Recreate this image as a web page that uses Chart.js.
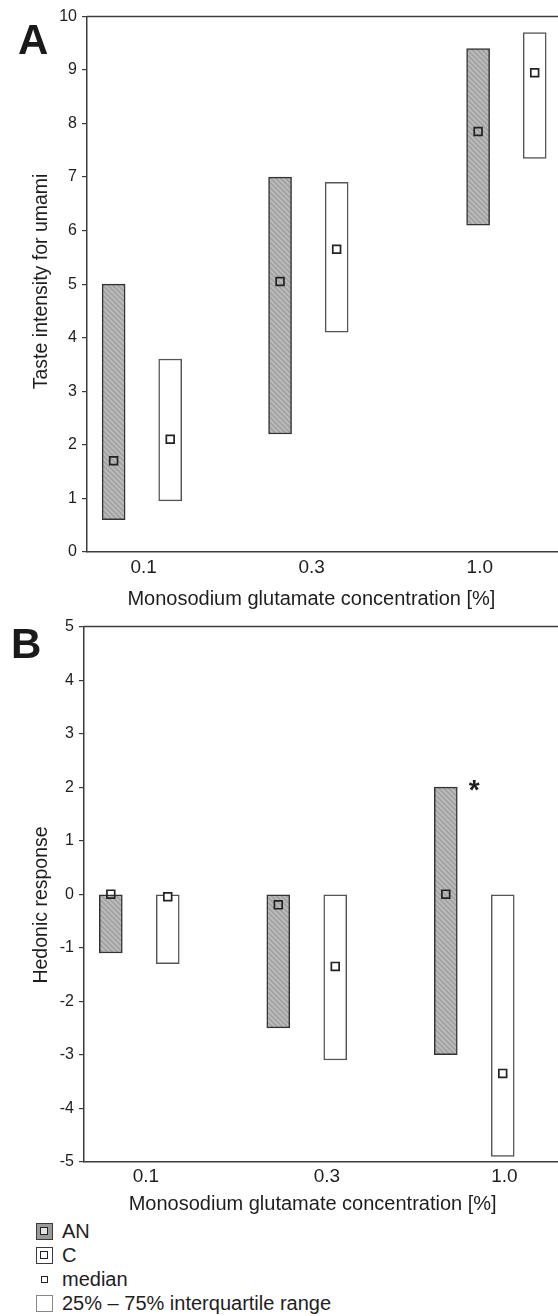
<!DOCTYPE html>
<html>
<head>
<meta charset="utf-8">
<script src="https://cdn.jsdelivr.net/npm/chart.js@4.4.1/dist/chart.umd.min.js"></script>
<style>
  body { margin: 0; background: #fff; }
  #page { position: relative; width: 558px; height: 1316px; overflow: hidden;
          font-family: "Liberation Sans", Arial, sans-serif; color: #1e1e1e; }
  canvas { position: absolute; left: 0; }
  #chartA { top: 0; }
  #chartB { top: 612px; }
  .panel { position: absolute; font-weight: bold; font-size: 42px; line-height: 42px; color: #1a1a1a; }
  #legend { position: absolute; left: 36px; top: 1219px; font-size: 20px; }
  .row { position: relative; height: 24px; line-height: 24px; padding-left: 26px; white-space: nowrap; }
  .key { position: absolute; left: 0; top: 4px; width: 17px; height: 17px; box-sizing: border-box;
         border: 1.5px solid #3a3a3a; background: #fff; }
  .key i { position: absolute; left: 3px; top: 3px; width: 8px; height: 8px; box-sizing: border-box;
           border: 1.5px solid #222; background: #fff; }
  .key.an { background: #9a9a9a; }
  .key.an i { background: #e4e4e4; }
  .key.med { border: none; background: none; }
  .key.med i { left: 5px; top: 5px; width: 7px; height: 7px; }
  .key.iqr { border: 1px solid #888; }
</style>
</head>
<body>
<div id="page">
  <canvas id="chartA" width="558" height="612"></canvas>
  <canvas id="chartB" width="558" height="606"></canvas>
  <div class="panel" style="left:18px; top:19px;">A</div>
  <div class="panel" style="left:11px; top:623px;">B</div>
  <div id="legend">
    <div class="row"><span class="key an"><i></i></span>AN</div>
    <div class="row"><span class="key c"><i></i></span>C</div>
    <div class="row"><span class="key med"><i></i></span>median</div>
    <div class="row"><span class="key iqr"></span>25% – 75% interquartile range</div>
  </div>
</div>
<script>
// Data
// -----------------------------------
var concLabels = ['0.1', '0.3', '1.0'];

// A: taste intensity for umami (25%, 75%, median)
var tasteAN_q1  = [0.6, 2.2, 6.1];
var tasteAN_q3  = [5.0, 7.0, 9.4];
var tasteAN_med = [1.7, 5.05, 7.85];
var tasteC_q1   = [0.95, 4.1, 7.35];
var tasteC_q3   = [3.6, 6.9, 9.7];
var tasteC_med  = [2.1, 5.65, 8.95];

// B: hedonic response (25%, 75%, median)
var hedAN_q1  = [-1.1, -2.5, -3.0];
var hedAN_q3  = [0, 0, 2.0];
var hedAN_med = [0, -0.2, 0];
var hedC_q1   = [-1.3, -3.1, -4.9];
var hedC_q3   = [0, 0, 0];
var hedC_med  = [-0.05, -1.35, -3.35];

// Layout (x axis positions in group units)
// -----------------------------------
var layout = {
    A: { groups: [1, 2, 3.19], labels: [1.01, 2.02, 3.03], axisW: 87, padTop: 16.5,
         tickPad: 5, titlePad: { top: 2.5, bottom: 1 }, xNudge: 4, yNudge: -1 },
    B: { groups: [1, 2, 3], labels: [1.04, 2.12, 3.18], axisW: 84, padTop: 13.7,
         tickPad: 4, titlePad: { top: 0, bottom: 1.5 }, xNudge: 3, yNudge: 4 },
    shift: 0.17
};

var FONT = '"Liberation Sans", Arial, sans-serif';
var INK = '#1e1e1e';
var LINE = '#3c3c3c';
Chart.defaults.font.family = FONT;
Chart.defaults.color = INK;

// pad a centred title with spaces so the visible text sits off-centre, like the figure
function nudge(text, n) {
    var sp = ' '.repeat(Math.abs(n));
    return n >= 0 ? text + sp : sp + text;
}

function hatch() {
    var c = document.createElement('canvas');
    c.width = 5; c.height = 5;
    var g = c.getContext('2d');
    g.fillStyle = '#a3a3a3';
    g.fillRect(0, 0, 5, 5);
    g.strokeStyle = '#c0c0c0';
    g.lineWidth = 1.4;
    g.beginPath();
    g.moveTo(-1, -1); g.lineTo(6, 6);
    g.moveTo(-1, 4); g.lineTo(1, 6);
    g.moveTo(4, -1); g.lineTo(6, 1);
    g.stroke();
    return g.createPattern(c, 'repeat');
}

// top frame line + asterisk marks
var extras = {
    id: 'extras',
    afterDraw: function(chart, args, opts) {
        var ctx = chart.ctx, a = chart.chartArea;
        ctx.save();
        ctx.strokeStyle = LINE;
        ctx.lineWidth = 1.5;
        ctx.beginPath();
        ctx.moveTo(a.left, a.top);
        ctx.lineTo(a.right, a.top);
        ctx.stroke();
        (opts.marks || []).forEach(function(m) {
            var px = chart.scales.x.getPixelForValue(m.x);
            var py = chart.scales.y.getPixelForValue(m.y);
            ctx.fillStyle = INK;
            ctx.font = 'bold 28px ' + FONT;
            ctx.textAlign = 'center';
            ctx.textBaseline = 'alphabetic';
            ctx.fillText(m.text, px, py + 0.57 * 28);
        });
        ctx.restore();
    }
};

function bars(label, pos, q1, q3, fill, border, dx) {
    return {
        type: 'bar',
        label: label,
        data: pos.map(function(p, i) { return { x: p + dx, y: [q1[i], q3[i]] }; }),
        backgroundColor: fill,
        borderColor: border,
        borderWidth: 1.5,
        borderSkipped: false,
        barThickness: 23,
        grouped: false,
        order: 2
    };
}

function medians(label, pos, med, fill, dx) {
    return {
        type: 'scatter',
        label: label,
        data: pos.map(function(p, i) { return { x: p + dx, y: med[i] }; }),
        pointStyle: 'rect',
        pointRadius: 5.5,
        borderWidth: 1.7,
        borderColor: '#222',
        backgroundColor: fill,
        order: 1
    };
}

function makeChart(id, L, s, yMin, yMax, yTitle, marks) {
    var ctx = document.getElementById(id).getContext('2d');
    var d = layout.shift;
    return new Chart(ctx, {
        type: 'bar',
        data: {
            datasets: [
                bars('AN', L.groups, s.anQ1, s.anQ3, hatch(), '#333', -d),
                bars('C', L.groups, s.cQ1, s.cQ3, '#fff', '#555', d),
                medians('AN median', L.groups, s.anMed, 'rgba(0,0,0,0)', -d),
                medians('C median', L.groups, s.cMed, '#fff', d)
            ]
        },
        options: {
            responsive: false,
            animation: false,
            events: [],
            layout: { autoPadding: false, padding: { top: L.padTop, left: 0, right: 0, bottom: 0 } },
            plugins: {
                legend: { display: false },
                tooltip: { enabled: false },
                extras: { marks: marks }
            },
            scales: {
                x: {
                    type: 'linear',
                    min: 0.67,
                    max: 3.5,
                    offset: false,
                    afterBuildTicks: function(ax) {
                        ax.ticks = L.labels.map(function(v) { return { value: v }; });
                    },
                    ticks: {
                        autoSkip: false,
                        maxRotation: 0,
                        padding: L.tickPad,
                        color: INK,
                        font: { size: 19 },
                        callback: function(v, i) { return concLabels[i]; }
                    },
                    grid: { display: false, drawTicks: false },
                    border: { display: true, color: LINE, width: 1.5 },
                    title: {
                        display: true,
                        text: nudge('Monosodium glutamate concentration [%]', L.xNudge),
                        color: INK,
                        font: { size: 20 },
                        padding: L.titlePad
                    }
                },
                y: {
                    min: yMin,
                    max: yMax,
                    ticks: { stepSize: 1, padding: 5, color: INK, font: { size: 16 } },
                    grid: { drawOnChartArea: false, drawTicks: true, tickLength: 5, color: LINE, lineWidth: 1.2 },
                    border: { display: true, color: LINE, width: 1.5 },
                    title: {
                        display: true,
                        text: nudge(yTitle, L.yNudge),
                        color: INK,
                        font: { size: 19.5 },
                        padding: { top: 30, bottom: 0 }
                    },
                    afterFit: function(ax) { ax.width = L.axisW; }
                }
            }
        },
        plugins: [extras]
    });
}

makeChart('chartA', layout.A, {
    anQ1: tasteAN_q1, anQ3: tasteAN_q3, anMed: tasteAN_med,
    cQ1: tasteC_q1, cQ3: tasteC_q3, cMed: tasteC_med
}, 0, 10, 'Taste intensity for umami', []);

makeChart('chartB', layout.B, {
    anQ1: hedAN_q1, anQ3: hedAN_q3, anMed: hedAN_med,
    cQ1: hedC_q1, cQ3: hedC_q3, cMed: hedC_med
}, -5, 5, 'Hedonic response', [{ x: 3, y: 2.07, text: '*' }]);
</script>
</body>
</html>
